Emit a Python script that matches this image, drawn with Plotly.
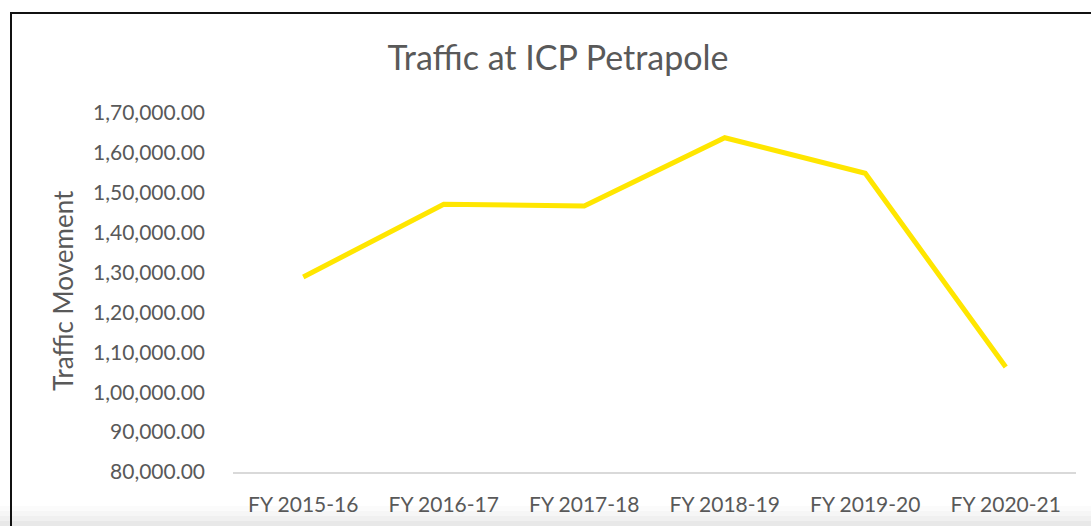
import plotly.graph_objects as go

categories = ["FY 2015-16", "FY 2016-17", "FY 2017-18", "FY 2018-19", "FY 2019-20", "FY 2020-21"]
traffic = [128900, 147100, 146700, 163800, 154900, 106300]
y_tick_values = [80000, 90000, 100000, 110000, 120000, 130000, 140000, 150000, 160000, 170000]
y_tick_labels = ["80,000.00", "90,000.00", "1,00,000.00", "1,10,000.00", "1,20,000.00",
                 "1,30,000.00", "1,40,000.00", "1,50,000.00", "1,60,000.00", "1,70,000.00"]

W, H = 1091, 526
L, R, T, B = 233, 15, 113, 54
PW, PH = W - L - R, H - T - B

def px_x(px):
    return (px - L) / PW

def px_y(py):
    return 1 - (py - T) / PH

FONT = "Lato, Carlito, Calibri, sans-serif"
GREY = "#595959"

fig = go.Figure()
fig.add_trace(go.Scatter(
    x=categories, y=traffic, mode="lines",
    line=dict(color="#FFE600", width=5),
    hoverinfo="x+y", showlegend=False,
))

shapes = []
# subtle bottom shadow
for y0, op in [(506, 0.015), (511, 0.02), (516, 0.025), (521, 0.03)]:
    shapes.append(dict(type="rect", xref="paper", yref="paper",
                       x0=px_x(0), x1=px_x(W), y0=px_y(H + 2), y1=px_y(y0),
                       fillcolor="rgba(0,0,0,%g)" % op, line=dict(width=0), layer="below"))
# chart border (top + left visible)
shapes.append(dict(type="rect", xref="paper", yref="paper",
                   x0=px_x(11), x1=px_x(W + 20), y0=px_y(H + 20), y1=px_y(13),
                   line=dict(color="#111111", width=2), fillcolor="rgba(0,0,0,0)"))

fig.update_layout(
    width=W, height=H, autosize=False,
    margin=dict(l=L, r=R, t=T, b=B),
    paper_bgcolor="white", plot_bgcolor="white",
    font=dict(family=FONT, color=GREY, size=21),
    title=dict(text="Traffic at ICP Petrapole", x=558 / W, xanchor="center",
               y=1 - 58 / H, yanchor="middle", yref="container",
               font=dict(size=34, color=GREY, family=FONT)),
    shapes=shapes,
    annotations=[dict(text="Traffic Movement", xref="paper", yref="paper",
                      x=px_x(63), y=px_y(291), xanchor="center", yanchor="middle",
                      textangle=-90, showarrow=False,
                      font=dict(size=26, color=GREY, family=FONT))],
)
fig.update_xaxes(
    type="category", range=[-0.5, 5.5], showgrid=False, zeroline=False,
    showline=True, linecolor="#D9D9D9", linewidth=1.5, ticks="", automargin=False,
    ticklabelstandoff=13, tickfont=dict(size=21, color=GREY, family=FONT),
)
fig.update_yaxes(
    range=[80000, 170000], tickvals=y_tick_values, ticktext=y_tick_labels,
    showgrid=False, zeroline=False, showline=False, ticks="", automargin=False,
    ticklabelstandoff=27, tickfont=dict(size=21, color=GREY, family=FONT),
)

fig.write_html("out.html", config={"displayModeBar": False},
               post_script="document.body.style.margin='0';")
